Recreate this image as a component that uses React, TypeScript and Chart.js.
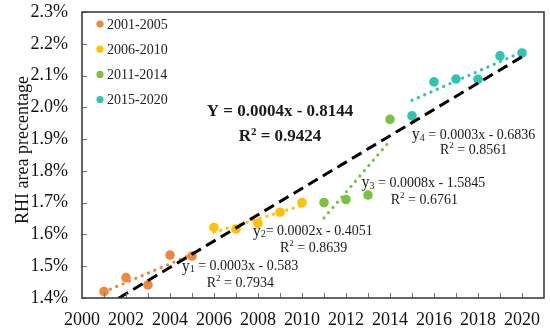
import React, { useEffect, useRef } from 'react';
import { Chart, registerables } from 'chart.js';
Chart.register(...registerables);

// ---- data ----
const years1 = [2001, 2002, 2003, 2004, 2005];
const vals1 = [1.420, 1.464, 1.441, 1.535, 1.532];
const years2 = [2006, 2007, 2008, 2009, 2010];
const vals2 = [1.622, 1.617, 1.635, 1.670, 1.700];
const years3 = [2011, 2012, 2013, 2014];
const vals3 = [1.700, 1.710, 1.724, 1.962];
const years4 = [2015, 2016, 2017, 2018, 2019, 2020];
const vals4 = [1.973, 2.080, 2.089, 2.088, 2.162, 2.171];

const seriesNames = ['2001-2005', '2006-2010', '2011-2014', '2015-2020'];
const seriesColors = ['#F0873C', '#FFC000', '#7CC143', '#2FC4B3'];

// trend-line end points
const trendYears1 = [2001, 2005];
const trendVals1 = [1.419, 1.537];
const trendYears2 = [2006, 2010];
const trendVals2 = [1.607, 1.691];
const trendYears3 = [2011, 2014];
const trendVals3 = [1.652, 1.895];
const trendYears4 = [2015, 2020];
const trendVals4 = [2.022, 2.174];
const overallYears = [2001, 2020];
const overallVals = [1.372, 2.159];

const xTickLabels = [2000, 2002, 2004, 2006, 2008, 2010, 2012, 2014, 2016, 2018, 2020];
const yTicks = [1.4, 1.5, 1.6, 1.7, 1.8, 1.9, 2.0, 2.1, 2.2, 2.3];
const xMin = 2000;
const xMax = 2021;
const yTitle = 'RHI area precentage';

const eqTexts = [
  { name: 'y', sub: '1', rest: ' = 0.0003x - 0.583', r2: '0.7934' },
  { name: 'y', sub: '2', rest: '= 0.0002x - 0.4051', r2: '0.8639' },
  { name: 'y', sub: '3', rest: ' = 0.0008x - 1.5845', r2: '0.6761' },
  { name: 'y', sub: '4', rest: ' = 0.0003x - 0.6836', r2: '0.8561' },
];
// anchors (data units) for equation lines and R² lines
const eqAnchors = [
  { ex: 2004.53, ey: 1.4985, rx: 2005.67, ry: 1.447 },
  { ex: 2007.76, ey: 1.6086, rx: 2009.0, ry: 1.557 },
  { ex: 2012.71, ey: 1.762, rx: 2014.03, ry: 1.708 },
  { ex: 2014.99, ey: 1.913, rx: 2016.27, ry: 1.866 },
];
const overallEq = 'Y = 0.0004x - 0.8144';
const overallR2 = '0.9424';
const overallAnchor = { x: 2009.0, y1: 1.985, y2: 1.9066 };

const FONT = "'Liberation Serif', 'Times New Roman', serif";

function toPts(xs: number[], ys: number[]) {
  return xs.map((x, i) => ({ x, y: ys[i] }));
}

type Part = { t: string; size: number; dy?: number; bold?: boolean };

function partsWidth(ctx: CanvasRenderingContext2D, parts: Part[]) {
  let w = 0;
  for (const p of parts) {
    ctx.font = `${p.bold ? 'bold ' : ''}${p.size}px ${FONT}`;
    w += ctx.measureText(p.t).width;
  }
  return w;
}

function drawParts(ctx: CanvasRenderingContext2D, x: number, y: number, parts: Part[]) {
  let cx = x;
  for (const p of parts) {
    ctx.font = `${p.bold ? 'bold ' : ''}${p.size}px ${FONT}`;
    ctx.fillText(p.t, cx, y + (p.dy || 0));
    cx += ctx.measureText(p.t).width;
  }
}

const decorPlugin = {
  id: 'decor',
  afterDatasetsDraw(chart: any) {
    const { ctx, chartArea, scales } = chart;
    const xs = scales.x;
    const ys = scales.y;
    ctx.save();
    // inner tick marks
    ctx.strokeStyle = '#777';
    ctx.lineWidth = 1;
    ctx.beginPath();
    for (let yr = xMin + 1; yr < xMax; yr++) {
      const px = Math.round(xs.getPixelForValue(yr)) + 0.5;
      ctx.moveTo(px, chartArea.bottom);
      ctx.lineTo(px, chartArea.bottom - 5);
    }
    for (const v of yTicks) {
      const py = Math.round(ys.getPixelForValue(v)) + 0.5;
      ctx.moveTo(chartArea.left, py);
      ctx.lineTo(chartArea.left + 5, py);
    }
    ctx.stroke();
    // frame
    ctx.strokeStyle = '#333';
    ctx.lineWidth = 1.5;
    ctx.strokeRect(chartArea.left, chartArea.top, chartArea.right - chartArea.left, chartArea.bottom - chartArea.top);

    // y-axis title
    ctx.save();
    ctx.translate(27.5, (chartArea.top + chartArea.bottom) / 2 - 5);
    ctx.rotate(-Math.PI / 2);
    ctx.textAlign = 'center';
    ctx.textBaseline = 'alphabetic';
    ctx.fillStyle = '#111';
    ctx.font = `18px ${FONT}`;
    ctx.fillText(yTitle, 0, 0);
    ctx.restore();

    // legend
    ctx.textBaseline = 'middle';
    ctx.textAlign = 'left';
    seriesNames.forEach((name, i) => {
      const cy = chartArea.top + 12 + i * 25.2;
      const cx = chartArea.left + 18;
      ctx.fillStyle = seriesColors[i];
      ctx.beginPath();
      ctx.arc(cx, cy, 3.6, 0, Math.PI * 2);
      ctx.fill();
      ctx.fillStyle = '#222';
      ctx.font = `14px ${FONT}`;
      ctx.fillText(name, cx + 7, cy + 1);
    });

    // equations
    ctx.fillStyle = '#1a1a1a';
    eqTexts.forEach((e, i) => {
      const a = eqAnchors[i];
      drawParts(ctx, xs.getPixelForValue(a.ex), ys.getPixelForValue(a.ey), [
        { t: e.name, size: 16 },
        { t: e.sub, size: 10, dy: 3 },
        { t: e.rest, size: 14 },
      ]);
      drawParts(ctx, xs.getPixelForValue(a.rx), ys.getPixelForValue(a.ry), [
        { t: 'R', size: 14 },
        { t: '2', size: 9, dy: -4 },
        { t: ' = ' + e.r2, size: 14 },
      ]);
    });
    // overall equation (bold, centred)
    const l1: Part[] = [{ t: overallEq, size: 17, bold: true }];
    const l2: Part[] = [
      { t: 'R', size: 17, bold: true },
      { t: '2', size: 11, bold: true, dy: -5 },
      { t: ' = ' + overallR2, size: 17, bold: true },
    ];
    const cxo = xs.getPixelForValue(overallAnchor.x);
    drawParts(ctx, cxo - partsWidth(ctx, l1) / 2, ys.getPixelForValue(overallAnchor.y1), l1);
    drawParts(ctx, cxo - partsWidth(ctx, l2) / 2, ys.getPixelForValue(overallAnchor.y2), l2);
    ctx.restore();
  },
};

export default function App() {
  const ref = useRef<HTMLCanvasElement | null>(null);
  useEffect(() => {
    if (!ref.current) return;
    const pointSets = [toPts(years1, vals1), toPts(years2, vals2), toPts(years3, vals3), toPts(years4, vals4)];
    const trendSets = [
      toPts(trendYears1, trendVals1),
      toPts(trendYears2, trendVals2),
      toPts(trendYears3, trendVals3),
      toPts(trendYears4, trendVals4),
    ];
    const datasets: any[] = [];
    pointSets.forEach((d, i) => {
      datasets.push({
        label: seriesNames[i],
        data: d,
        showLine: false,
        pointRadius: 4.8,
        pointHoverRadius: 4.8,
        pointBackgroundColor: seriesColors[i],
        pointBorderWidth: 0,
        borderColor: seriesColors[i],
        order: 2,
      });
    });
    trendSets.forEach((d, i) => {
      datasets.push({
        label: 'trend ' + seriesNames[i],
        data: d,
        showLine: true,
        pointRadius: 0,
        borderColor: seriesColors[i],
        borderWidth: 3.2,
        borderDash: [0.1, 6.8],
        borderCapStyle: 'round',
        order: 1,
      });
    });
    datasets.push({
      label: 'overall',
      data: toPts(overallYears, overallVals),
      showLine: true,
      pointRadius: 0,
      borderColor: '#000',
      borderWidth: 3,
      borderDash: [11, 6],
      order: 0,
    });

    const chart = new Chart(ref.current, {
      type: 'scatter',
      data: { datasets },
      options: {
        animation: false,
        responsive: false,
        devicePixelRatio: 1,
        layout: { padding: { top: 12, right: 6, left: 0, bottom: 0 } },
        plugins: { legend: { display: false }, tooltip: { enabled: false } },
        scales: {
          x: {
            type: 'linear',
            min: xMin,
            max: xMax,
            grid: { display: false, drawTicks: false },
            border: { display: false },
            afterBuildTicks: (s: any) => {
              s.ticks = xTickLabels.map((v) => ({ value: v }));
            },
            ticks: {
              autoSkip: false,
              padding: 11,
              color: '#111',
              font: { family: FONT, size: 18 },
              callback: (v: any) => String(v),
            },
            afterFit: (s: any) => {
              s.height = 34;
              s.paddingLeft = 0;
              s.paddingRight = 0;
            },
          },
          y: {
            min: 1.4,
            max: 2.3,
            grid: { display: false, drawTicks: false },
            border: { display: false },
            afterBuildTicks: (s: any) => {
              s.ticks = yTicks.map((v) => ({ value: v }));
            },
            ticks: {
              padding: 14,
              color: '#111',
              font: { family: FONT, size: 18 },
              callback: (v: any) => Number(v).toFixed(1) + '%',
            },
            title: { display: false },
            afterFit: (s: any) => {
              s.width = 82;
              s.paddingTop = 0;
              s.paddingBottom = 0;
            },
          },
        },
      },
      plugins: [decorPlugin],
    } as any);
    return () => chart.destroy();
  }, []);
  return (
    <div style={{ position: 'absolute', left: 0, top: 0, width: 550, height: 332, background: '#fff' }}>
      <canvas ref={ref} width={550} height={332} style={{ width: 550, height: 332 }} />
    </div>
  );
}
